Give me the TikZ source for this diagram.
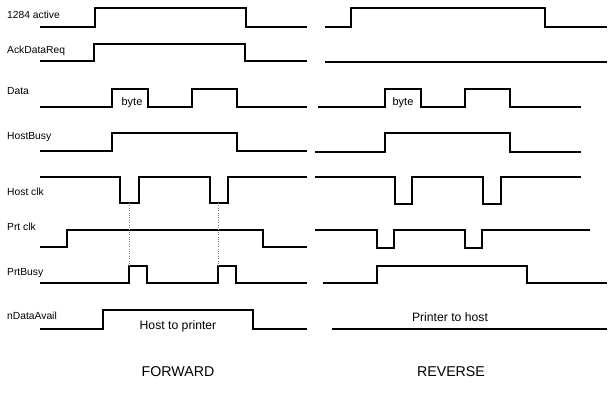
\documentclass[tikz,border=0pt]{standalone}
\usepackage{fontspec}
\setmainfont{Liberation Sans}
\usepackage{tikz}
\usetikzlibrary{positioning}

\begin{document}
\begin{tikzpicture}[
    x=1pt, y=-1pt,
    sig/.style={anchor=west, inner sep=0pt, font=\fontsize{10.3}{12}\selectfont},
    wave/.style={line width=1.3pt, black, line join=miter},
    txt/.style={inner sep=0pt, font=\fontsize{12.2}{14}\selectfont},
    ttl/.style={inner sep=0pt, font=\fontsize{14.2}{16}\selectfont},
    tick/.style={dotted, gray, thin},
]
\useasboundingbox (0,0) rectangle (608,393);

% Signal names
\node[sig] (act)  at (7,15)  {1284 active};
\node[sig] (ack)  at (7,51)  {AckDataReq};
\node[sig] (dat)  at (7,91)  {Data};
\node[sig] (hbs)  at (7,137) {HostBusy};
\node[sig] (hck)  at (7,192) {Host clk};
\node[sig] (pck)  at (7,227) {Prt clk};
\node[sig] (pbs)  at (7,273) {PrtBusy};
\node[sig] (nda)  at (7,316) {nDataAvail};

% Forward waveforms
\draw[wave] (40,27)  -| (95,8)   -| (246,27) -- (307,27);
\draw[wave] (40,61)  -| (94,44)  -| (245,61) -- (307,61);
\draw[wave] (40,107) -| (112,89) -| (148,107) -| (192,89) -| (237,107) -- (307,107);
\draw[wave] (40,151) -| (112,133) -| (237,151) -- (307,151);
\draw[wave] (40,177) -| (120,203) -| (139,177) -| (210,203) -| (228,177) -- (307,177);
\draw[wave] (40,247) -| (67,230) -| (263,247) -- (307,247);
\draw[wave] (40,283) -| (129,266) -| (147,283) -| (218,266) -| (236,283) -- (307,283);
\draw[wave] (40,329) -| (103,310) -| (253,329) -- (307,329);

% Clock edges
\coordinate (f1a) at (129,203);
\coordinate (f1b) at (129,266);
\coordinate (f2a) at (218,203);
\coordinate (f2b) at (218,266);
\draw[tick] (f1a) -- (f1b);
\draw[tick] (f2a) -- (f2b);

\node[txt, font=\fontsize{11}{13}\selectfont] (fbyte) at (132,103) {byte};
\node[txt] (fdir)  at (178,326) {Host to printer};

% Reverse waveforms
\draw[wave] (325,27)  -| (351,8)   -| (545,27) -- (607,27);
\draw[wave] (325,62)  -- (607,62);
\draw[wave] (318,107) -| (385,89) -| (421,107) -| (465,89) -| (510,107) -- (581,107);
\draw[wave] (315,152) -| (385,133) -| (510,152) -- (581,152);
\draw[wave] (315,177) -| (395,204) -| (412,177) -| (483,204) -| (501,177) -- (581,177);
\draw[wave] (315,230) -| (377,248) -| (394,230) -| (465,248) -| (482,230) -- (590,230);
\draw[wave] (323,283) -| (377,266) -| (527,283) -- (607,283);
\draw[wave] (332,329) -- (607,329);

\node[txt, font=\fontsize{11}{13}\selectfont] (rbyte) at (403,103) {byte};
\node[txt] (rdir)  at (450,317) {Printer to host};

% Titles
\node[ttl] (fwd) at (178,372) {FORWARD};
\node[ttl] (rev) at (451,372) {REVERSE};
\end{tikzpicture}
\end{document}
